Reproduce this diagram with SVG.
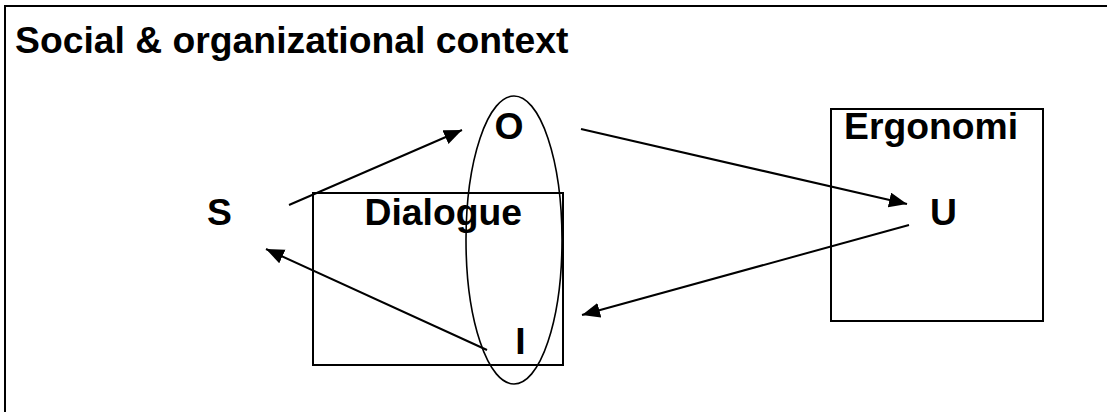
<svg xmlns="http://www.w3.org/2000/svg" width="1107" height="412" viewBox="0 0 1107 412">
<defs>
<style>
.t{font-family:"Liberation Sans",Arial,sans-serif;font-weight:bold;font-size:37.3px;fill:#000}
.s{fill:none;stroke:#000;stroke-width:2}
.c{fill:none;stroke:#000;stroke-width:2;marker-end:url(#ah)}
</style>
<marker id="ah" markerUnits="userSpaceOnUse" markerWidth="19" markerHeight="16" refX="18" refY="7.5" orient="auto">
<path d="M0,0 L18,7.5 L0,15 z" fill="#000"/>
</marker>
</defs>
<rect x="0" y="0" width="1107" height="412" fill="#fff"/>
<g id="context">
<rect class="s" x="5" y="6" width="1120" height="420"/>
<text class="t" x="15" y="53">Social &amp; organizational context</text>
</g>
<g id="dialogue">
<rect class="s" x="313" y="193" width="250" height="172"/>
<text class="t" x="364.5" y="225">Dialogue</text>
</g>
<g id="ergonomi">
<rect class="s" x="831" y="109" width="212" height="212"/>
<text class="t" x="844" y="139">Ergonomi</text>
</g>
<g id="interface">
<ellipse class="s" cx="514" cy="240" rx="48" ry="144" style="stroke-width:1.6"/>
</g>
<g id="node-S"><text class="t" x="207" y="225">S</text></g>
<g id="node-O"><text class="t" x="494.5" y="139">O</text></g>
<g id="node-U"><text class="t" x="930" y="225">U</text></g>
<g id="node-I"><text class="t" x="515.3" y="354">I</text></g>
<g id="connectors">
<line class="c" x1="289" y1="205" x2="462" y2="130"/>
<line class="c" x1="581" y1="129" x2="907" y2="204"/>
<line class="c" x1="909" y1="225" x2="582" y2="315"/>
<line class="c" x1="487" y1="350" x2="266" y2="249"/>
</g>
</svg>
